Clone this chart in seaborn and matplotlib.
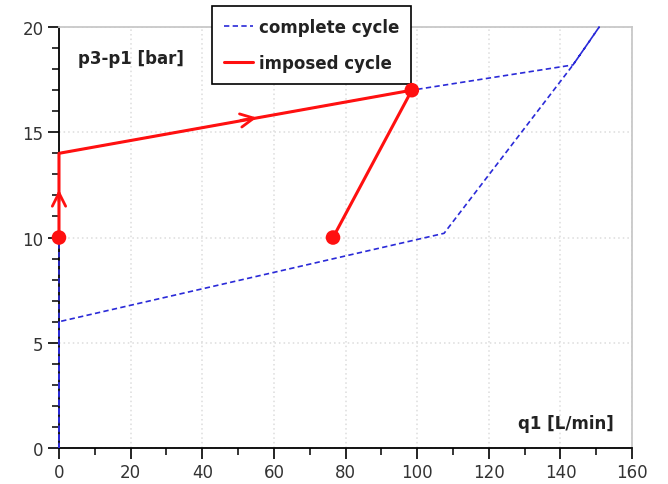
import matplotlib
matplotlib.use("Agg")
import matplotlib.pyplot as plt
import seaborn as sns
import pandas as pd

# Complete hysteresis cycle (q1 in L/min, p3-p1 in bar)
complete_q = [0, 0, 98.5, 143.5, 150.8, 143.5, 107.5, 0, 0]
complete_p = [0, 14, 17.0, 18.2, 20.0, 18.2, 10.2, 6.0, 0]

# Imposed cycle
imposed_q = [0, 0, 98.5, 76.5]
imposed_p = [10, 14, 17.0, 10.0]

# Marked states of the imposed cycle
marker_q = [0, 98.5, 76.5]
marker_p = [10, 17.0, 10.0]

sns.set_style("white")
plt.rcParams["font.family"] = ["DejaVu Sans"]

fig = plt.figure(figsize=(6.68, 4.85), dpi=100)
ax = fig.add_axes([0.0883, 0.0742, 0.858, 0.868])

df_c = pd.DataFrame({"q": complete_q, "p": complete_p})
df_i = pd.DataFrame({"q": imposed_q, "p": imposed_p})
df_m = pd.DataFrame({"q": marker_q, "p": marker_p})

sns.lineplot(data=df_c, x="q", y="p", sort=False, estimator=None, ax=ax,
             color="#2a2ad8", lw=1.2, linestyle=(0, (3.2, 2)), label="complete cycle",
             zorder=3)
sns.lineplot(data=df_i, x="q", y="p", sort=False, estimator=None, ax=ax,
             color="#ff1010", lw=2.2, label="imposed cycle", zorder=4)
for ln in ax.lines:
    ln.set_clip_on(False)
sns.scatterplot(data=df_m, x="q", y="p", ax=ax, color="#ff1010", s=110,
                edgecolor="none", zorder=5, legend=False, clip_on=False)

# Direction arrows
arrow = dict(arrowstyle="->", color="#ff1010", lw=2.0, mutation_scale=24)
ax.annotate("", xy=(0, 12.4), xytext=(0, 11.6), arrowprops=arrow, zorder=6,
            annotation_clip=False)
ax.annotate("", xy=(56, 15.72), xytext=(50, 15.54), arrowprops=arrow, zorder=6)

ax.set_xlim(0, 160)
ax.set_ylim(0, 20)
ax.set_xticks(range(0, 161, 20))
ax.set_xticks(range(0, 161, 10), minor=True)
ax.set_yticks(range(0, 21, 5))
ax.set_yticks(range(0, 21, 1), minor=True)
ax.tick_params(axis="both", which="major", direction="out", length=8, width=1.2,
               labelsize=12, colors="black", labelcolor="#333333", pad=3)
ax.tick_params(axis="both", which="minor", direction="out", length=5, width=1.1,
               colors="black")
ax.tick_params(axis="x", which="both", bottom=True)
ax.tick_params(axis="y", which="both", left=True)

ax.grid(True, which="major", color="#dcdcdc", linestyle=(0, (1, 2)), lw=1.1)

for side in ("left", "bottom"):
    ax.spines[side].set_color("black")
    ax.spines[side].set_linewidth(1.3)
for side in ("top", "right"):
    ax.spines[side].set_color("#c8c8c8")
    ax.spines[side].set_linewidth(1.3)

ax.set_xlabel("")
ax.set_ylabel("")
ax.text(5.3, 18.55, "p3-p1 [bar]", fontsize=12, fontweight="bold", color="#222222",
        va="center", ha="left")
ax.text(155, 1.2, "q1 [L/min]", fontsize=12, fontweight="bold", color="#222222",
        va="center", ha="right")

leg = ax.legend(loc="upper left", bbox_to_anchor=(212 / 668, 1 - 7 / 485),
                bbox_transform=fig.transFigure, borderaxespad=0, frameon=True,
                fancybox=False, framealpha=1, prop={"weight": "bold", "size": 12},
                handlelength=1.75, borderpad=0.72, labelspacing=1.08,
                handletextpad=0.35)
leg.get_frame().set_edgecolor("black")
leg.get_frame().set_linewidth(1.2)
leg.set_zorder(4.5)
for t in leg.get_texts():
    t.set_color("#222222")

fig.savefig("out.png", dpi=100)
